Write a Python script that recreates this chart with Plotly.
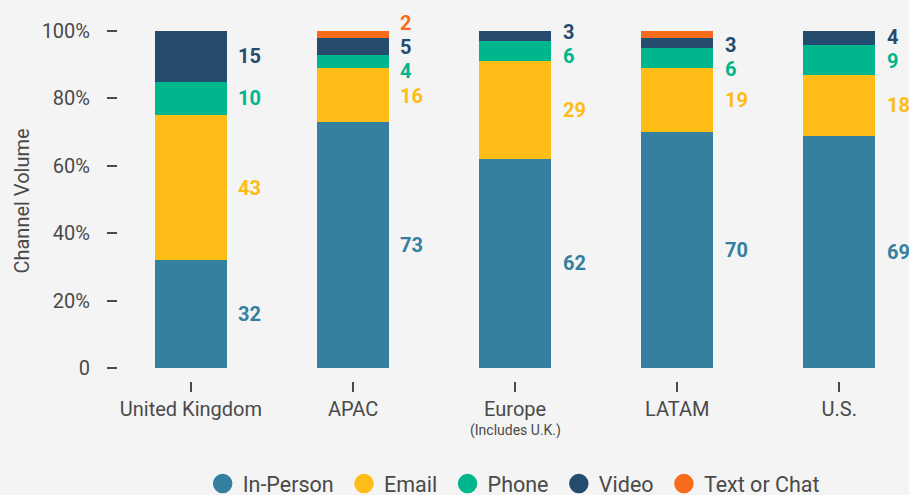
import plotly.graph_objects as go

# ---------------- data ----------------
regions = ["United Kingdom", "APAC", "Europe", "LATAM", "U.S."]
region_notes = ["", "", "(Includes U.K.)", "", ""]
channels = ["In-Person", "Email", "Phone", "Video", "Text or Chat"]
in_person = [32, 73, 62, 70, 69]
email = [43, 16, 29, 19, 18]
phone = [10, 4, 6, 6, 9]
video = [15, 5, 3, 3, 4]
text_chat = [0, 2, 0, 2, 0]
y_tick_vals = [0, 20, 40, 60, 80, 100]
y_tick_text = ["0", "20%", "40%", "60%", "80%", "100%"]

series = [in_person, email, phone, video, text_chat]
colors = ["#357f9f", "#fdbc16", "#00b68c", "#254b6e", "#f76c1b"]

FONT = "Roboto"
GRAY = "#4a4a4a"
BG = "#f4f4f4"

xpos = list(range(len(regions)))

fig = go.Figure()

# stacked bars
for name, vals, col in zip(channels, series, colors):
    fig.add_trace(go.Bar(
        x=xpos, y=vals, name=name, width=0.444,
        marker=dict(color=col, line=dict(width=0)),
        showlegend=False, hoverinfo="skip",
    ))

# legend entries with circle symbols
for name, col in zip(channels, colors):
    fig.add_trace(go.Scatter(
        x=[None], y=[None], mode="markers", name=name + "\u00a0",
        marker=dict(size=16, color=col, symbol="circle",
                    line=dict(width=3.5, color=col)),
    ))


def spread(mids, gap):
    """Place labels at segment mid-points, pushing apart clusters that collide."""
    groups = [[i] for i in range(len(mids))]

    def place(g):
        c = sum(mids[i] for i in g) / len(g)
        n = len(g)
        return [c + (k - (n - 1) / 2) * gap for k in range(n)]

    changed = True
    while changed:
        changed = False
        for j in range(len(groups) - 1):
            lo = place(groups[j])
            hi = place(groups[j + 1])
            if hi[0] - lo[-1] < gap - 1e-9:
                groups[j] = groups[j] + groups[j + 1]
                del groups[j + 1]
                changed = True
                break
    out = [0.0] * len(mids)
    for g in groups:
        for i, p in zip(g, place(g)):
            out[i] = p
    return out


# value labels to the right of each bar
for i in xpos:
    base = 0
    segs = []
    for vals, col in zip(series, colors):
        v = vals[i]
        if v > 0:
            segs.append((v, col, base + v / 2))
        base += v
    positions = spread([s[2] for s in segs], 7.2)
    for (v, col, _), ypos in zip(segs, positions):
        fig.add_annotation(
            x=i + 0.28, y=ypos, text=str(v), showarrow=False,
            xanchor="left", yanchor="middle",
            font=dict(family=FONT, size=20, color=col, weight="bold"),
        )

# small second line under a category label
for i, note in zip(xpos, region_notes):
    if note:
        fig.add_annotation(
            x=i, xref="x", y=-0.137, yref="paper", text=note, showarrow=False,
            xanchor="center", yanchor="middle",
            font=dict(family=FONT, size=14, color=GRAY),
        )

fig.update_layout(
    width=909, height=495,
    barmode="stack",
    paper_bgcolor=BG, plot_bgcolor=BG,
    margin=dict(l=118, r=0, t=21, b=113.5, autoexpand=False),
    font=dict(family=FONT, color=GRAY),
    hovermode=False,
    legend=dict(
        orientation="h", traceorder="normal",
        x=0.504, xanchor="center", y=-0.285, yanchor="middle",
        font=dict(family=FONT, size=21.5, color=GRAY),
        bgcolor="rgba(0,0,0,0)", itemclick=False, itemdoubleclick=False,
    ),
    xaxis=dict(
        range=[-0.45, 4.43], tickmode="array", tickvals=xpos, ticktext=regions,
        ticks="outside", ticklen=10, tickwidth=2, tickcolor=GRAY,
        showgrid=False, zeroline=False, showline=False, automargin=False,
        tickfont=dict(family=FONT, size=20, color=GRAY),
        fixedrange=True,
    ),
    yaxis=dict(
        range=[-3.9, 103], tickmode="array", tickvals=y_tick_vals, ticktext=y_tick_text,
        ticks="outside", ticklen=10, tickwidth=1.5, tickcolor=GRAY,
        ticklabelstandoff=13, automargin=False,
        showgrid=False, zeroline=False, showline=False,
        tickfont=dict(family=FONT, size=20, color=GRAY),
        title=dict(text="Channel Volume", standoff=6,
                   font=dict(family=FONT, size=20, color=GRAY)),
        fixedrange=True,
    ),
)

fig.write_html("out.html")
